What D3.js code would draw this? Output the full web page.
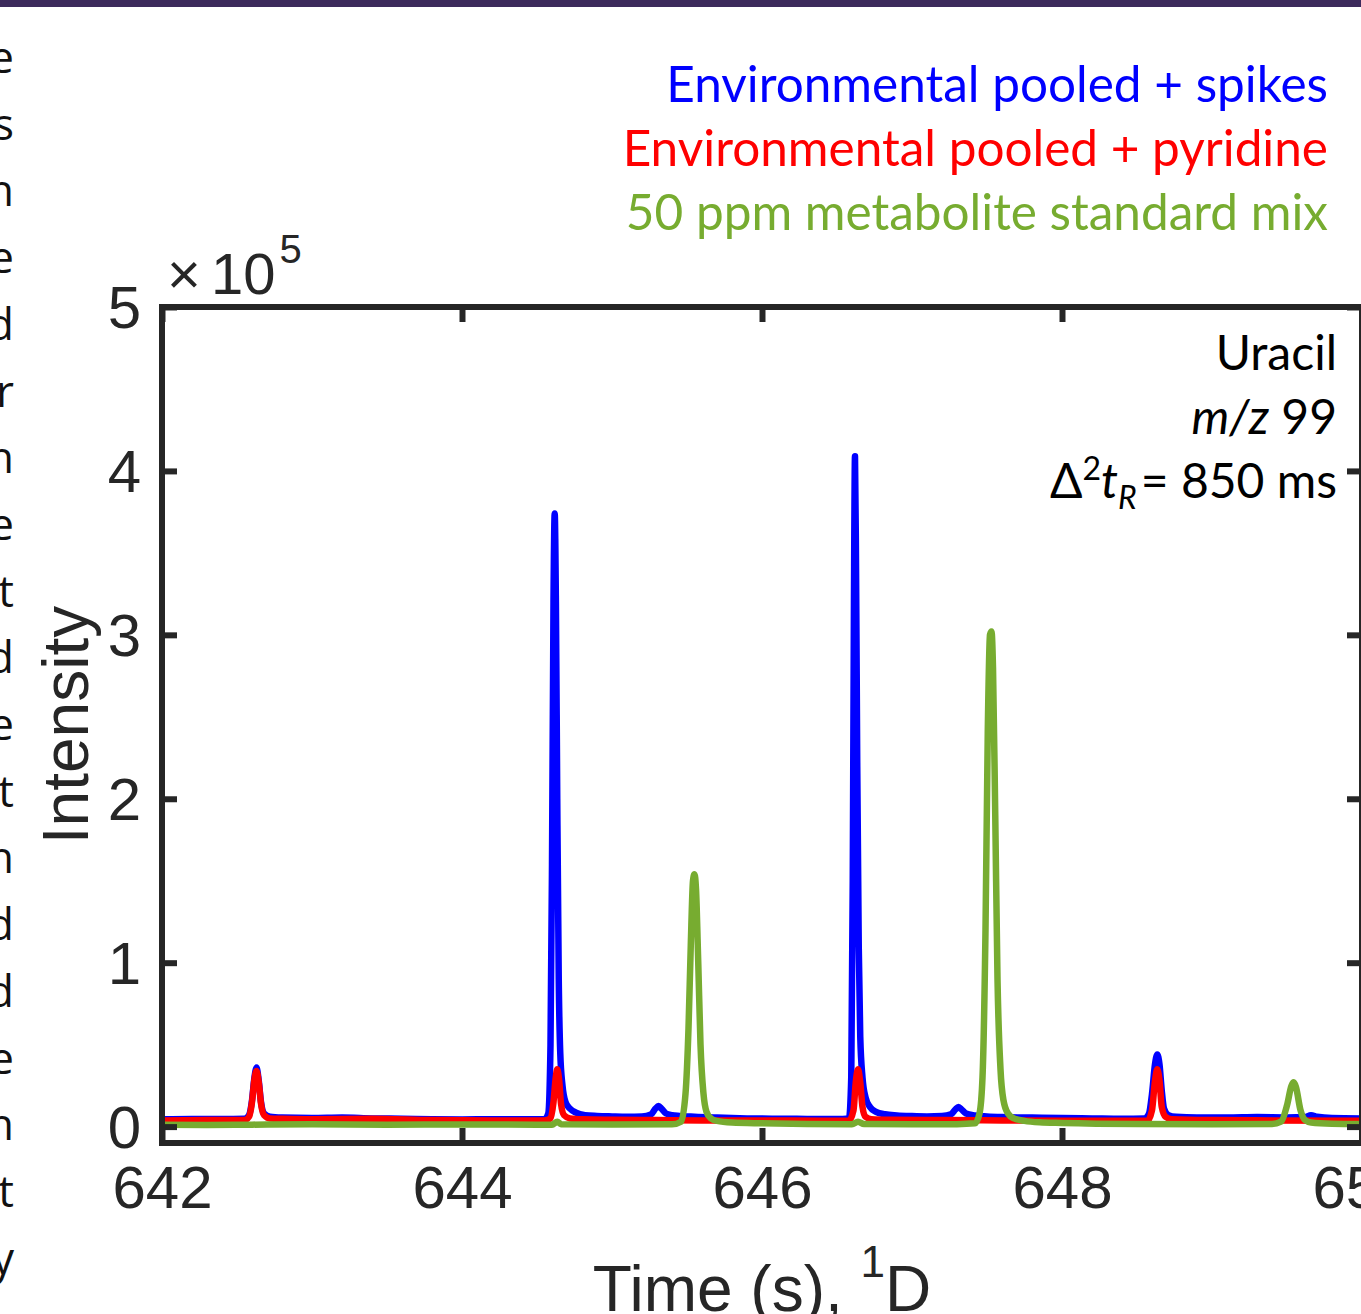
<!DOCTYPE html>
<html>
<head>
<meta charset="utf-8">
<script src="https://cdn.jsdelivr.net/npm/d3@7"></script>
<style>
  html,body{margin:0;padding:0;background:#fff;}
  svg{display:block;}
</style>
</head>
<body>
<svg id="chart" width="1361" height="1314"></svg>
<script>
// ---------------- data (intensity in units of 1e5) ----------------
const xTicks = [642, 644, 646, 648, 650];
const yTicks = [0, 1, 2, 3, 4, 5];
const seriesNames = ["Environmental pooled + spikes", "Environmental pooled + pyridine", "50 ppm metabolite standard mix"];
const seriesColors = ["#0000ff", "#ff0000", "#77ac30"];
const sideLetters = ["e","s","n","e","d","r","n","e","t","d","e","t","n","d","d","e","n","t","y"];

const blueSpikes = [
 [642.00,0.045],[642.20,0.047],[642.40,0.046],[642.55,0.048],[642.58,0.07],[642.60,0.16],[642.615,0.29],[642.63,0.36],[642.645,0.28],[642.66,0.15],[642.68,0.08],[642.72,0.06],[642.80,0.055],
 [643.00,0.052],[643.20,0.055],[643.40,0.05],[643.60,0.048],[643.80,0.045],[644.00,0.044],[644.20,0.045],[644.40,0.045],[644.55,0.045],
 [644.575,0.08],[644.59,0.5],[644.60,1.6],[644.61,3.2],[644.618,3.74],[644.626,3.2],[644.635,2.0],[644.645,0.9],[644.655,0.45],[644.67,0.25],[644.69,0.15],[644.72,0.11],[644.76,0.085],[644.82,0.07],[644.90,0.065],
 [645.00,0.062],[645.10,0.06],[645.20,0.062],[645.26,0.075],[645.29,0.11],[645.31,0.125],[645.33,0.11],[645.36,0.08],[645.40,0.07],[645.45,0.065],[645.55,0.06],[645.70,0.055],[645.90,0.05],
 [646.10,0.048],[646.30,0.047],[646.50,0.046],[646.58,0.05],[646.595,0.3],[646.605,1.5],[646.613,3.2],[646.62,4.09],[646.627,3.4],[646.635,2.2],[646.645,1.1],[646.655,0.55],[646.67,0.3],[646.69,0.18],[646.72,0.12],[646.76,0.09],[646.82,0.075],[646.90,0.068],
 [647.00,0.064],[647.10,0.062],[647.20,0.064],[647.26,0.075],[647.29,0.105],[647.31,0.12],[647.33,0.105],[647.36,0.08],[647.42,0.068],[647.50,0.062],[647.60,0.058],[647.80,0.055],
 [648.00,0.052],[648.20,0.05],[648.40,0.048],[648.55,0.05],[648.58,0.08],[648.60,0.2],[648.62,0.38],[648.635,0.44],[648.65,0.38],[648.665,0.22],[648.68,0.11],[648.71,0.07],[648.76,0.06],[648.90,0.055],
 [649.10,0.055],[649.30,0.058],[649.50,0.056],[649.62,0.058],[649.66,0.07],[649.70,0.06],[649.80,0.052],[650.00,0.05]
];

const redPyridine = [
 [642.00,0.038],[642.30,0.04],[642.55,0.04],[642.58,0.06],[642.60,0.15],[642.615,0.28],[642.63,0.34],[642.645,0.27],[642.66,0.14],[642.68,0.07],[642.72,0.05],[642.80,0.048],
 [643.00,0.045],[643.40,0.048],[643.80,0.04],[644.20,0.038],[644.55,0.038],
 [644.59,0.05],[644.61,0.15],[644.625,0.3],[644.635,0.35],[644.648,0.28],[644.66,0.14],[644.68,0.07],[644.72,0.05],[644.80,0.045],
 [645.00,0.042],[645.30,0.04],[645.60,0.038],[646.00,0.038],[646.40,0.036],[646.58,0.037],
 [646.61,0.1],[646.625,0.27],[646.64,0.35],[646.655,0.27],[646.67,0.12],[646.69,0.06],[646.73,0.045],[646.85,0.042],
 [647.20,0.04],[647.60,0.038],[648.00,0.036],[648.40,0.036],[648.57,0.037],
 [648.60,0.1],[648.62,0.28],[648.635,0.35],[648.65,0.28],[648.665,0.12],[648.69,0.06],[648.73,0.045],
 [649.00,0.04],[649.40,0.038],[650.00,0.036]
];

const greenStandard = [
 [642.00,0.012],[642.30,0.01],[642.60,0.012],[643.00,0.014],[643.50,0.012],[644.00,0.013],[644.50,0.012],[644.60,0.012],[644.635,0.03],[644.66,0.015],
 [645.00,0.013],[645.40,0.014],[645.46,0.03],[645.49,0.2],[645.51,0.6],[645.525,1.1],[645.54,1.5],[645.55,1.54],[645.56,1.45],[645.575,1.0],[645.59,0.5],[645.61,0.2],[645.63,0.09],[645.66,0.05],[645.70,0.035],[645.80,0.025],
 [646.00,0.02],[646.30,0.016],[646.60,0.015],[646.64,0.03],[646.68,0.016],
 [647.00,0.014],[647.30,0.015],[647.42,0.02],[647.45,0.08],[647.47,0.3],[647.49,1.2],[647.505,2.4],[647.52,3.0],[647.53,3.02],[647.54,2.8],[647.555,1.9],[647.57,0.9],[647.59,0.35],[647.61,0.16],[647.64,0.08],[647.68,0.05],[647.75,0.035],[647.85,0.026],
 [648.00,0.022],[648.50,0.016],[649.00,0.015],[649.40,0.016],[649.46,0.03],[649.50,0.13],[649.53,0.25],[649.545,0.27],[649.56,0.24],[649.59,0.1],[649.62,0.04],[649.66,0.025],[649.80,0.018],[650.00,0.016]
];

const allSeries = [blueSpikes, redPyridine, greenStandard];

// ---------------- layout ----------------
const svg = d3.select("#chart");
const L = 162, R = 1362, T = 307, B = 1143;
const x = d3.scaleLinear().domain([642, 650]).range([L, R]);
const y = d3.scaleLinear().domain([-0.1, 5]).range([B, T]);
const axisColor = "#262626";
const tickFont = "'Liberation Sans', Arial, Helvetica, sans-serif";
const textFont = "Lato, 'Open Sans', sans-serif";

// top purple bar
svg.append("rect").attr("x",0).attr("y",0).attr("width",1361).attr("height",7).attr("fill","#3c2a5c");

// side text column (cut-off paragraph)
svg.append("g").selectAll("text").data(sideLetters).join("text")
  .attr("x", 14).attr("y", (d,i) => 73 + i*66.7)
  .attr("text-anchor","end")
  .style("font-family", "'Open Sans', sans-serif").style("font-size","44px").attr("fill","#111")
  .text(d => d);

// clip
svg.append("clipPath").attr("id","plotclip").append("rect")
  .attr("x",L).attr("y",T).attr("width",R-L).attr("height",B-T);

const line = d3.line().x(d => x(d[0])).y(d => y(d[1])).curve(d3.curveMonotoneX);
const gLines = svg.append("g").attr("clip-path","url(#plotclip)");
allSeries.forEach((s,i) => {
  gLines.append("path").datum(s).attr("d", line)
    .attr("fill","none").attr("stroke", seriesColors[i])
    .attr("stroke-width", 6.5).attr("stroke-linejoin","round").attr("stroke-linecap","round");
});

// axes
const tickLen = 15;
const gx = svg.append("g").attr("transform",`translate(0,${B})`)
  .call(d3.axisBottom(x).tickValues(xTicks).tickSizeInner(-tickLen).tickSizeOuter(0).tickPadding(22).tickFormat(d3.format("d")));
const gy = svg.append("g").attr("transform",`translate(${L},0)`)
  .call(d3.axisLeft(y).tickValues(yTicks).tickSizeInner(-tickLen).tickSizeOuter(0).tickPadding(21).tickFormat(d3.format("d")));
const gt = svg.append("g").attr("transform",`translate(0,${T})`)
  .call(d3.axisTop(x).tickValues(xTicks).tickSizeInner(-tickLen).tickSizeOuter(0).tickFormat(""));
const gr = svg.append("g").attr("transform",`translate(${R},0)`)
  .call(d3.axisRight(y).tickValues(yTicks).tickSizeInner(-tickLen).tickSizeOuter(0).tickFormat(""));
[gx,gy,gt,gr].forEach(g => {
  g.select(".domain").remove();
  g.selectAll(".tick line").attr("stroke",axisColor).attr("stroke-width",6);
  g.selectAll(".tick text").attr("fill",axisColor).style("font-family",tickFont).style("font-size","60px");
});
gy.selectAll(".tick text").attr("dy","0.34em");

svg.append("rect").attr("x",L).attr("y",T).attr("width",R-L).attr("height",B-T)
  .attr("fill","none").attr("stroke",axisColor).attr("stroke-width",6);

// exponent label
const ex = svg.append("text").attr("x",167).attr("y",294)
  .style("font-family",tickFont).style("font-size","58px").attr("fill",axisColor);
ex.append("tspan").style("font-weight","300").text("×");
ex.append("tspan").attr("dx",10).text("10");
ex.append("tspan").attr("dx",4).attr("dy",-31).style("font-size","40px").text("5");

// axis titles
svg.append("text").attr("transform","translate(88,725) rotate(-90)")
  .attr("text-anchor","middle").style("font-family",tickFont).style("font-size","64px").attr("fill",axisColor)
  .text("Intensity");
const xt = svg.append("text").attr("x",762).attr("y",1311).attr("text-anchor","middle")
  .style("font-family",tickFont).style("font-size","64px").attr("fill",axisColor);
xt.append("tspan").text("Time (s), ");
xt.append("tspan").attr("dy",-34).style("font-size","44px").text("1");
xt.append("tspan").attr("dy",34).text("D");

// legend
svg.append("g").selectAll("text").data(seriesNames).join("text")
  .attr("x",1328).attr("y",(d,i) => 102 + i*64)
  .attr("text-anchor","end").style("font-family",textFont).style("font-size","49.5px")
  .attr("fill",(d,i) => seriesColors[i]).text(d => d);

// annotation
const ann = svg.append("g").style("font-family",textFont).style("font-size","48px").attr("fill","#000");
ann.append("text").attr("x",1337).attr("y",370).attr("text-anchor","end").text("Uracil");
const mz = ann.append("text").attr("x",1337).attr("y",434).attr("text-anchor","end");
mz.append("tspan").style("font-style","italic").text("m/z");
mz.append("tspan").text(" 99");
const dt = ann.append("text").attr("x",1337).attr("y",498).attr("text-anchor","end");
dt.append("tspan").text("Δ");
dt.append("tspan").attr("dy",-18).style("font-size","32px").text("2");
dt.append("tspan").attr("dy",18).style("font-style","italic").text("t");
dt.append("tspan").attr("dy",11).style("font-size","32px").style("font-style","italic").text("R");
dt.append("tspan").attr("dy",-11).attr("dx",4).text("= 850 ms");
</script>
</body>
</html>
